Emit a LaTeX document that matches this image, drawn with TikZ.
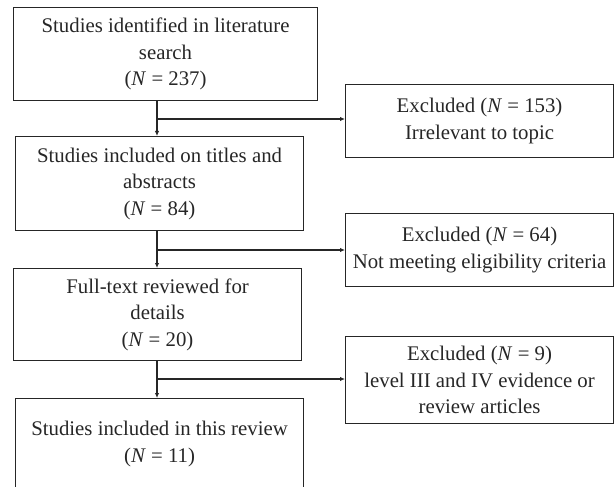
\documentclass[tikz,border=0pt]{standalone}
\usepackage{fontspec}
\setmainfont{Liberation Serif}
\usetikzlibrary{arrows.meta}
\begin{document}
\begin{tikzpicture}[x=1pt,y=1pt,
  every node/.style={font=\fontsize{20.8}{26.5}\selectfont, text=black!85},
  box/.style={draw=black!85, line width=1.1pt, anchor=north west, align=center, inner sep=0pt},
  arr/.style={draw=black!85, line width=1.1pt, -{Latex[length=5pt,width=4.5pt]}},
  ln/.style={draw=black!85, line width=1.1pt}]
\useasboundingbox (0,0) rectangle (614,-487);
\clip (0,0) rectangle (614,-487);
\node[box, minimum width=304, minimum height=93] (b1) at (13,-7)
  {Studies identified in literature\\search\\(\textit{N} = 237)};
\node[box, minimum width=288, minimum height=94] (b2) at (15,-136)
  {Studies included on titles and\\abstracts\\(\textit{N} = 84)};
\node[box, minimum width=288, minimum height=92] (b3) at (13,-268)
  {Full-text reviewed for\\details\\(\textit{N} = 20)};
\node[box, minimum width=288, minimum height=91] (b4) at (15,-398)
  {Studies included in this review\\(\textit{N} = 11)};
\node[box, minimum width=268, minimum height=73] (e1) at (345,-84)
  {Excluded (\textit{N} = 153)\\Irrelevant to topic};
\node[box, minimum width=268, minimum height=73] (e2) at (345,-213)
  {Excluded (\textit{N} = 64)\\Not meeting eligibility criteria};
\node[box, minimum width=268, minimum height=87] (e3) at (345,-336)
  {Excluded (\textit{N} = 9)\\level III and IV evidence or\\review articles};
\coordinate (t1) at (157,-119);
\coordinate (t2) at (157,-250);
\coordinate (t3) at (157,-379);
\draw[arr] (b1.south -| t1) -- (b2.north -| t1);
\draw[arr] (t1) -- (e1.west |- t1);
\draw[arr] (b2.south -| t2) -- (b3.north -| t2);
\draw[arr] (t2) -- (e2.west |- t2);
\draw[arr] (b3.south -| t3) -- (b4.north -| t3);
\draw[arr] (t3) -- (e3.west |- t3);
\end{tikzpicture}
\end{document}
